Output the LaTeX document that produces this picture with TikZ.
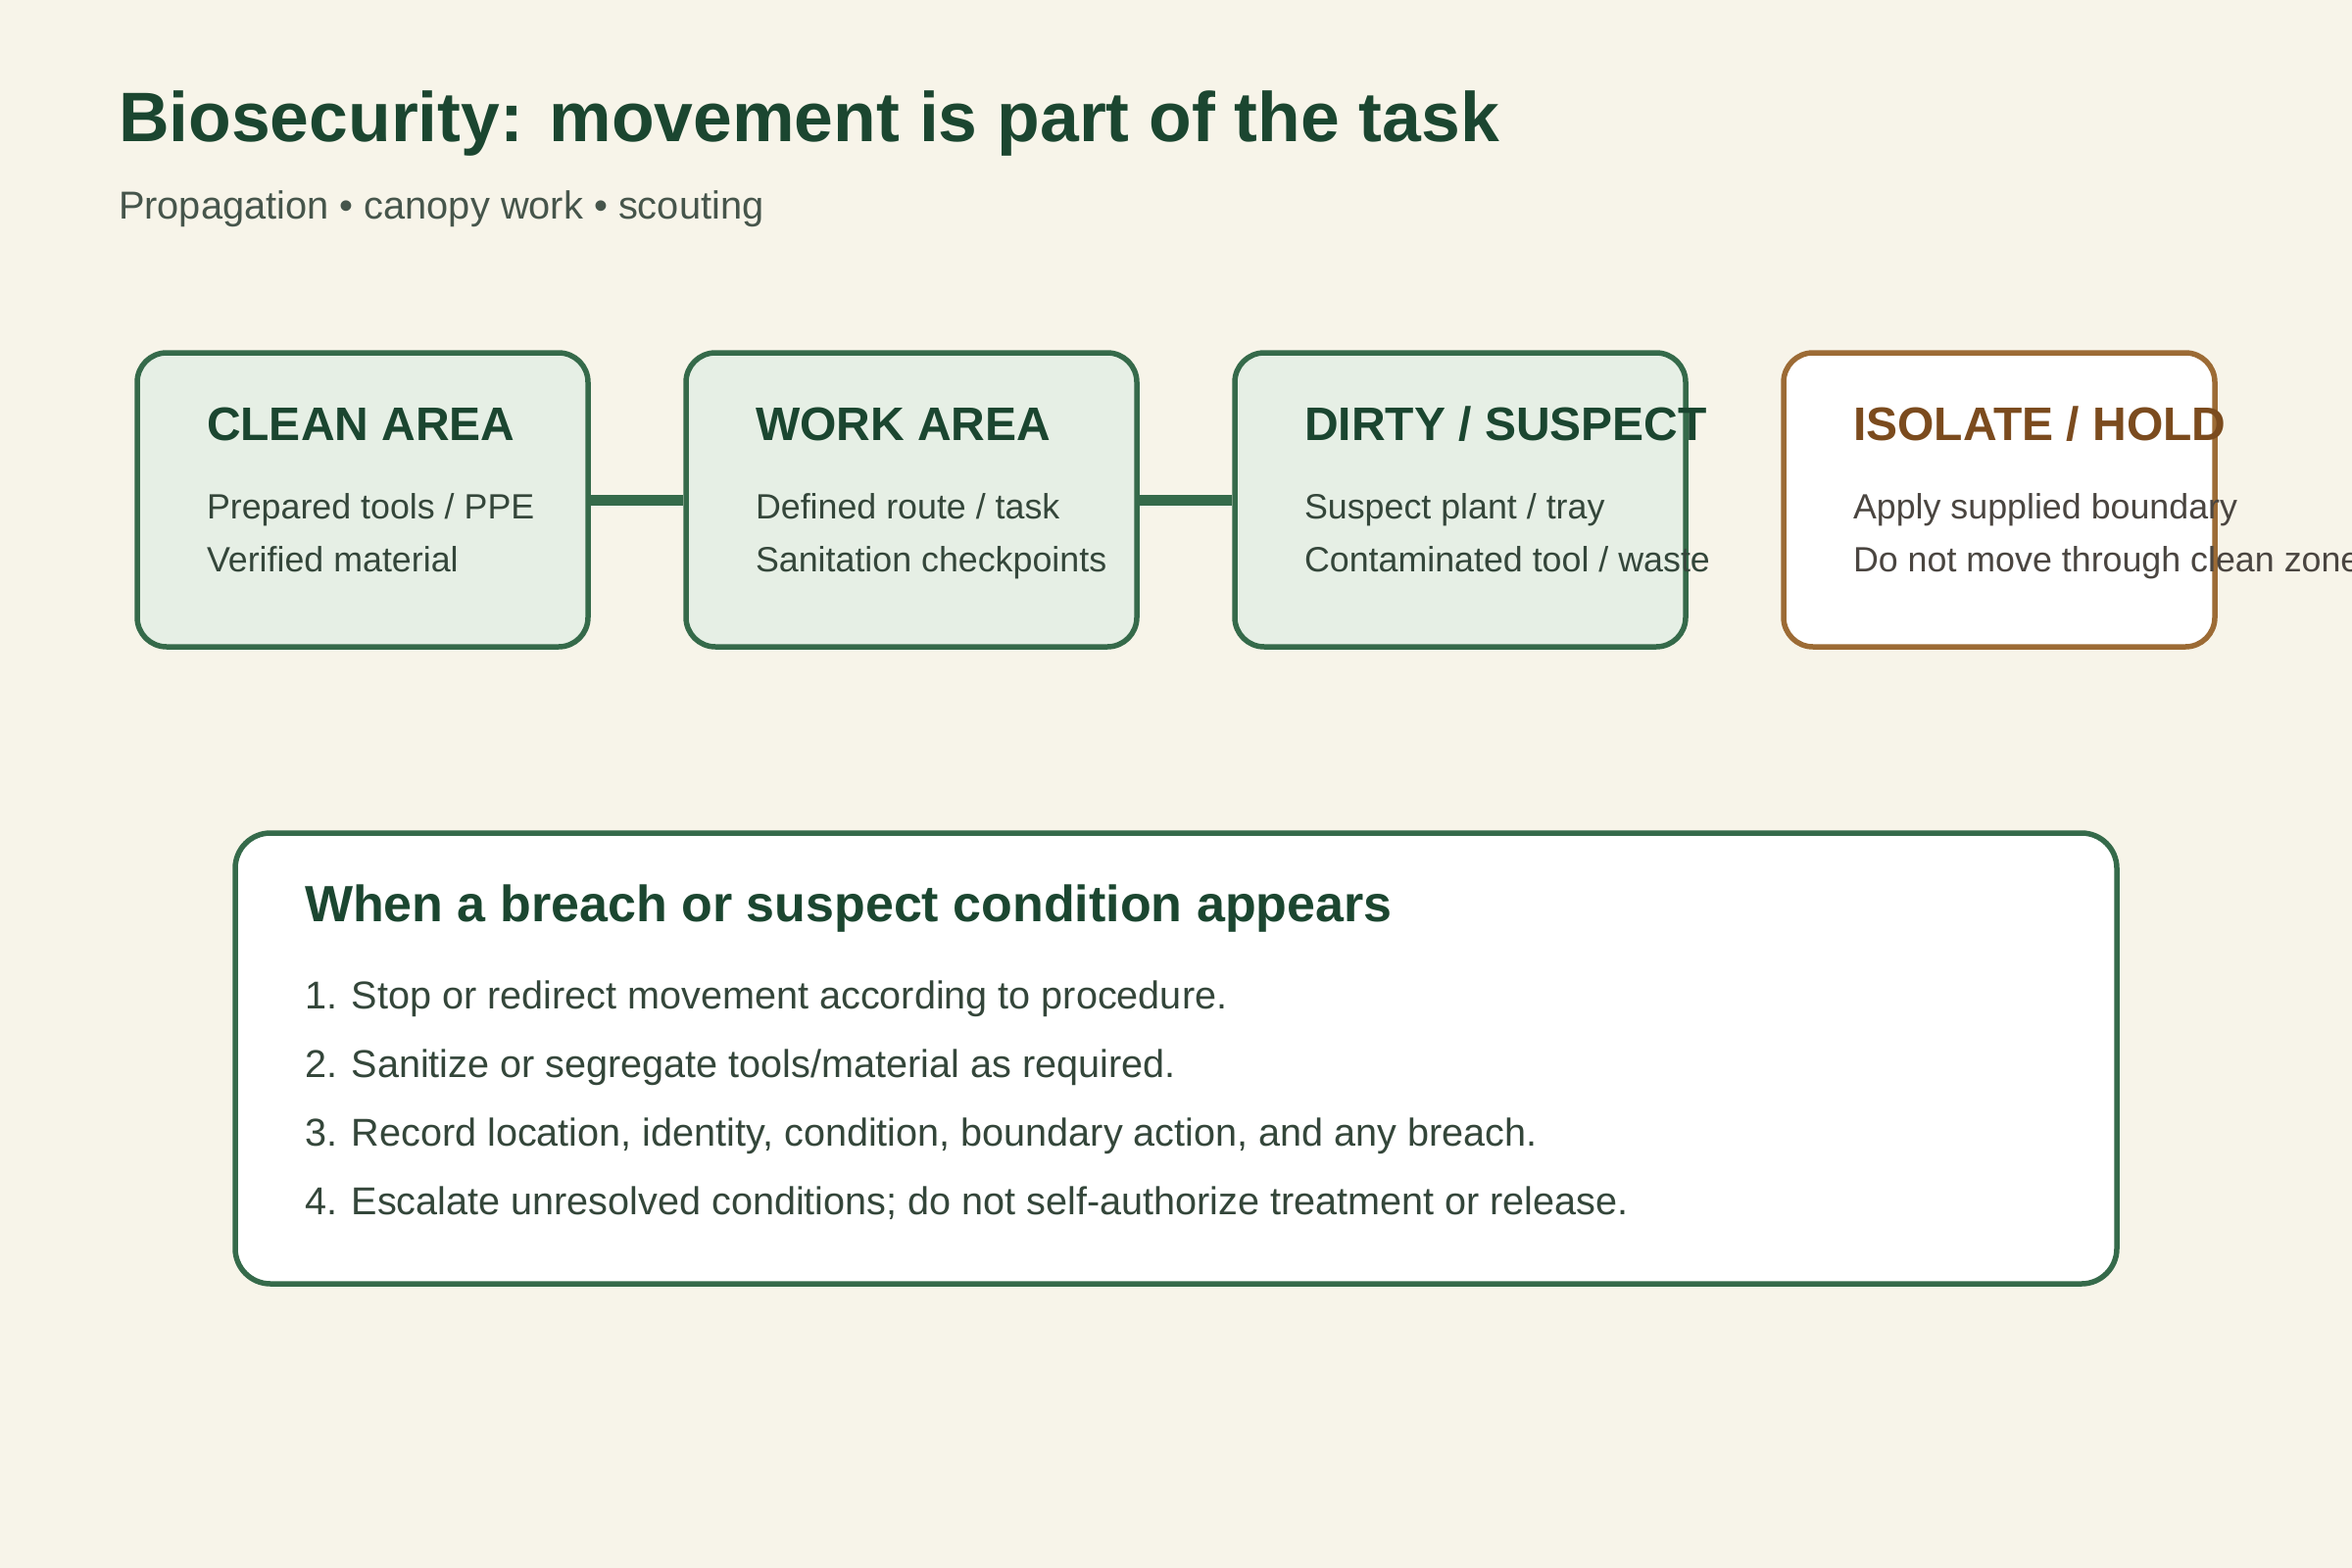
\documentclass[tikz,border=0pt]{standalone}
\usepackage{fontspec}
\setmainfont{Liberation Sans}
\definecolor{bg}{HTML}{F7F4E9}
\definecolor{zonefill}{HTML}{E6EFE5}
\definecolor{zoneline}{HTML}{356A4A}
\definecolor{titlegreen}{HTML}{1B4630}
\definecolor{subgray}{HTML}{46554B}
\definecolor{bodygreen}{HTML}{34463A}
\definecolor{brownline}{HTML}{9C6B35}
\definecolor{browntext}{HTML}{7B4B1E}
\definecolor{browngray}{HTML}{4A4540}
\tikzset{
  zonebox/.style={draw=zoneline, line width=5.5pt, fill=zonefill, rounded corners=30pt,
    minimum width=460pt, minimum height=300pt, inner sep=0pt},
  holdbox/.style={draw=brownline, line width=5.5pt, fill=white, rounded corners=30pt,
    minimum width=440pt, minimum height=300pt, inner sep=0pt},
  panelbox/.style={draw=zoneline, line width=5.5pt, fill=white, rounded corners=36pt,
    minimum width=1920pt, minimum height=460pt, inner sep=0pt},
  conn/.style={draw=zoneline, line width=11pt},
  txt/.style={anchor=base west, inner sep=0pt, outer sep=0pt},
  zonetitle/.style={txt, text=titlegreen, font=\fontsize{48}{56}\selectfont\bfseries},
  holdtitle/.style={txt, text=browntext, font=\fontsize{48}{56}\selectfont\bfseries},
  zonebody/.style={txt, text=bodygreen, font=\fontsize{35.8}{42}\selectfont},
  holdbody/.style={txt, text=browngray, font=\fontsize{35.8}{42}\selectfont},
  listitem/.style={txt, text=bodygreen, font=\fontsize{39.6}{48}\selectfont},
}
\begin{document}
\begin{tikzpicture}[x=1pt, y=-1pt]
\useasboundingbox (0,0) rectangle (2400,1600);
\fill[bg] (0,0) rectangle (2400,1600);

% heading
\node[txt, text=titlegreen, font=\fontsize{71.5}{86}\selectfont\bfseries] (title) at (121,145)
  {Biosecurity: movement is part of the task};
\node[txt, text=subgray, font=\fontsize{39.8}{48}\selectfont] (subtitle) at (121,223)
  {Propagation • canopy work • scouting};

% zones
\node[zonebox] (clean) at (370,510) {};
\node[zonebox] (work) at (930,510) {};
\node[zonebox] (dirty) at (1490,510) {};
\node[holdbox] (hold) at (2040,510) {};

\draw[conn] (clean.east) -- (work.west);
\draw[conn] (work.east) -- (dirty.west);

\node[zonetitle] (cleanT) at (211,449) {CLEAN AREA};
\node[zonebody] (cleanA) at (211,529) {Prepared tools / PPE};
\node[zonebody] (cleanB) at (211,583) {Verified material};

\node[zonetitle] (workT) at (771,449) {WORK AREA};
\node[zonebody] (workA) at (771,529) {Defined route / task};
\node[zonebody] (workB) at (771,583) {Sanitation checkpoints};

\node[zonetitle] (dirtyT) at (1331,449) {DIRTY / SUSPECT};
\node[zonebody] (dirtyA) at (1331,529) {Suspect plant / tray};
\node[zonebody] (dirtyB) at (1331,583) {Contaminated tool / waste};

\node[holdtitle] (holdT) at (1891,449) {ISOLATE / HOLD};
\node[holdbody] (holdA) at (1891,529) {Apply supplied boundary};
\node[holdbody] (holdB) at (1891,583) {Do not move through clean zone};

% breach panel
\node[panelbox] (panel) at (1200,1080) {};
\node[txt, text=titlegreen, font=\fontsize{52}{62}\selectfont\bfseries] (panelT) at (311,940)
  {When a breach or suspect condition appears};
\node[listitem] (s1) at (311,1029) {1. Stop or redirect movement according to procedure.};
\node[listitem] (s2) at (311,1099) {2. Sanitize or segregate tools/material as required.};
\node[listitem] (s3) at (311,1169) {3. Record location, identity, condition, boundary action, and any breach.};
\node[listitem] (s4) at (311,1239) {4. Escalate unresolved conditions; do not self-authorize treatment or release.};
\end{tikzpicture}
\end{document}
